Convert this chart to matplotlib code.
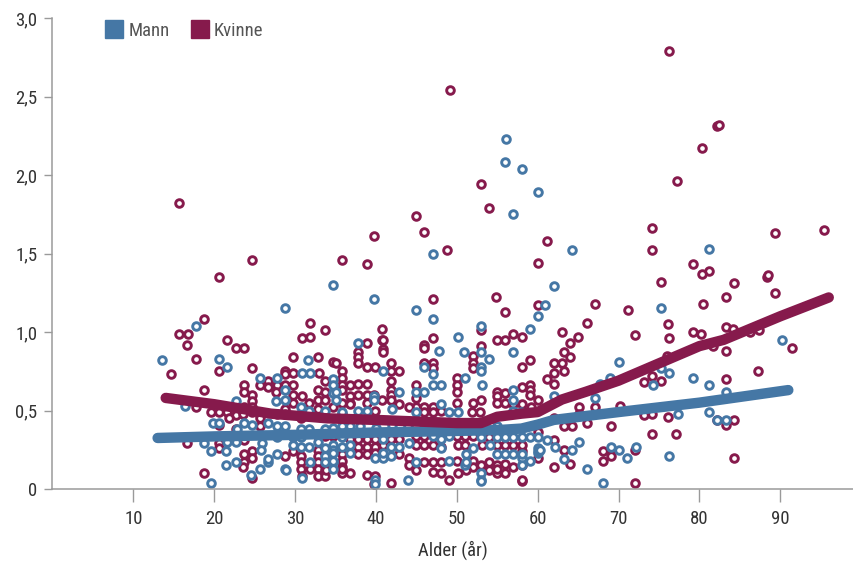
import matplotlib
matplotlib.use("Agg")
import matplotlib.pyplot as plt
from matplotlib import font_manager
from matplotlib.lines import Line2D

# ---------------- data ----------------
kvinne_punkter = [
    (76.3, 2.79), (49.1, 2.54), (82.2, 2.31), (82.4, 2.32), (80.3, 2.17), (77.2, 1.96), (53.0, 1.94),
    (54.0, 1.79), (15.6, 1.82), (44.9, 1.74), (46.0, 1.64), (39.8, 1.61), (48.8, 1.52), (61.1, 1.58),
    (74.2, 1.66), (74.2, 1.52), (89.3, 1.63), (95.4, 1.65), (20.6, 1.35), (24.7, 1.46), (35.8, 1.46),
    (38.9, 1.43), (60.1, 1.44), (79.2, 1.43), (81.2, 1.39), (80.3, 1.37), (75.2, 1.32), (88.4, 1.35),
    (88.5, 1.36), (84.3, 1.31), (83.3, 1.22), (89.4, 1.25), (80.4, 1.18), (54.9, 1.22), (56.0, 1.13),
    (47.0, 1.21), (60.1, 1.17), (67.1, 1.18), (71.2, 1.14), (18.7, 1.08), (31.8, 1.06), (33.7, 1.01),
    (15.6, 0.99), (16.7, 0.99), (21.6, 0.95), (30.8, 0.96), (31.9, 0.97), (40.8, 1.02), (40.8, 0.95),
    (53.0, 1.01), (57.0, 0.99), (58.1, 0.97), (47.0, 0.96), (55.0, 0.95), (56.0, 0.95), (66.1, 1.06),
    (76.1, 1.05), (63.0, 1.00), (65.0, 0.97), (72.1, 0.98), (79.2, 1.00), (80.2, 0.99), (76.3, 0.96),
    (83.3, 1.03), (84.2, 1.02), (86.3, 1.00), (87.4, 1.01), (81.7, 0.91), (83.3, 0.88), (91.4, 0.90),
    (87.3, 0.75), (83.3, 0.70), (83.3, 0.41), (84.3, 0.44), (84.3, 0.20),
    (64.0, 0.93), (63.2, 0.87), (64.0, 0.84), (59.1, 0.82), (62.0, 0.80), (63.0, 0.80), (58.1, 0.78),
    (76.0, 0.85), (63.2, 0.75), (62.0, 0.74), (74.2, 0.72), (61.1, 0.70), (59.1, 0.66), (59.1, 0.63),
    (59.1, 0.60), (62.0, 0.67), (73.1, 0.68), (75.2, 0.69), (60.0, 0.57), (58.1, 0.54), (59.2, 0.52),
    (65.1, 0.52), (67.1, 0.52), (70.2, 0.53), (65.1, 0.48), (73.1, 0.47), (74.2, 0.48), (76.1, 0.46),
    (82.2, 0.44), (62.0, 0.45), (66.1, 0.42), (63.2, 0.40), (64.2, 0.40), (69.1, 0.40), (60.0, 0.36),
    (74.2, 0.35), (77.1, 0.35), (62.0, 0.31), (58.1, 0.24), (60.0, 0.20), (63.2, 0.25), (68.1, 0.24),
    (69.1, 0.24), (69.1, 0.21), (72.1, 0.25), (68.1, 0.18), (64.0, 0.16), (62.0, 0.14), (58.1, 0.15),
    (58.1, 0.05), (72.1, 0.04),
    (16.6, 0.92), (22.7, 0.90), (23.7, 0.90), (17.7, 0.83), (14.6, 0.73), (20.6, 0.75), (24.7, 0.77),
    (26.7, 0.69), (25.7, 0.66), (26.7, 0.65), (23.7, 0.66), (23.7, 0.62), (18.7, 0.63), (24.7, 0.60),
    (24.7, 0.56), (17.7, 0.52), (19.6, 0.49), (20.6, 0.49), (21.6, 0.49), (22.7, 0.47), (21.8, 0.45),
    (23.6, 0.48), (23.7, 0.52), (24.7, 0.52), (24.7, 0.49), (25.7, 0.47), (25.7, 0.45), (25.7, 0.40),
    (20.6, 0.41), (22.7, 0.38), (16.6, 0.29), (20.6, 0.29), (20.6, 0.26), (23.7, 0.31), (23.7, 0.22),
    (24.7, 0.24), (24.7, 0.20), (23.7, 0.17), (23.6, 0.14), (18.7, 0.10), (24.7, 0.07),
    (29.8, 0.84), (32.8, 0.84), (34.7, 0.81), (28.7, 0.75), (28.7, 0.73), (29.8, 0.74), (32.9, 0.74),
    (33.7, 0.69), (27.8, 0.66), (28.7, 0.66), (27.7, 0.62), (29.8, 0.66), (29.8, 0.60), (30.8, 0.59),
    (32.8, 0.63), (33.7, 0.62), (32.8, 0.57), (29.7, 0.55), (31.7, 0.55), (33.7, 0.57), (32.8, 0.51),
    (34.7, 0.52), (28.8, 0.51), (28.8, 0.48), (27.8, 0.48), (30.7, 0.45), (32.8, 0.34), (33.7, 0.34),
    (34.7, 0.34), (29.7, 0.24), (32.8, 0.25), (28.8, 0.21), (30.7, 0.21), (30.7, 0.17), (30.7, 0.13),
    (32.8, 0.21), (32.8, 0.17), (32.8, 0.13), (32.8, 0.08), (33.7, 0.12), (33.7, 0.08), (30.8, 0.08),
    (31.8, 0.13),
    (38.9, 0.93), (40.9, 0.95), (40.9, 0.89), (40.9, 0.87), (45.9, 0.92), (45.9, 0.90), (53.0, 0.91),
    (52.0, 0.85), (37.8, 0.87), (37.8, 0.84), (37.8, 0.80), (38.9, 0.78), (35.0, 0.80), (41.9, 0.80),
    (41.9, 0.75), (42.9, 0.75), (39.9, 0.78), (45.9, 0.80), (47.0, 0.80), (47.0, 0.77), (52.0, 0.80),
    (52.0, 0.77), (35.8, 0.75), (35.8, 0.71), (35.8, 0.66), (35.8, 0.63), (36.8, 0.66), (37.8, 0.67),
    (38.9, 0.67), (41.9, 0.69), (41.9, 0.63), (41.9, 0.60), (44.9, 0.66), (50.0, 0.71), (50.0, 0.66),
    (50.0, 0.62), (55.0, 0.62), (55.0, 0.59), (56.0, 0.61), (58.1, 0.65), (37.8, 0.60), (38.9, 0.60),
    (39.8, 0.60), (36.8, 0.59), (36.8, 0.55), (35.8, 0.55), (36.8, 0.54), (38.9, 0.55), (40.8, 0.57),
    (41.9, 0.57), (42.9, 0.54), (44.9, 0.58), (44.9, 0.52), (45.9, 0.52), (47.0, 0.52), (50.0, 0.55),
    (52.0, 0.55), (53.0, 0.57), (55.0, 0.55), (56.0, 0.55), (57.0, 0.54), (35.8, 0.48), (39.9, 0.50),
    (44.1, 0.52), (45.9, 0.49), (47.0, 0.49), (48.0, 0.50), (51.9, 0.49), (52.9, 0.49),
    (36.8, 0.32), (37.8, 0.32), (38.9, 0.32), (39.9, 0.32), (41.9, 0.32), (42.9, 0.32), (44.9, 0.34),
    (45.9, 0.34), (50.0, 0.34), (51.0, 0.34), (52.0, 0.34), (54.0, 0.33), (37.8, 0.27), (38.9, 0.27),
    (39.9, 0.27), (40.9, 0.28), (44.9, 0.28), (45.9, 0.28), (47.0, 0.28), (48.0, 0.27), (50.1, 0.28),
    (51.0, 0.28), (53.1, 0.28), (55.0, 0.28), (56.0, 0.28), (57.0, 0.28), (58.1, 0.28), (35.8, 0.22),
    (35.8, 0.18), (35.8, 0.14), (37.8, 0.22), (38.9, 0.22), (39.9, 0.23), (42.9, 0.22), (44.1, 0.20),
    (45.9, 0.17), (47.0, 0.17), (48.0, 0.17), (50.0, 0.18), (52.0, 0.18), (52.0, 0.14), (53.0, 0.15),
    (54.0, 0.17), (55.0, 0.15), (56.0, 0.16), (57.0, 0.14), (35.8, 0.10), (36.8, 0.10), (38.9, 0.09),
    (39.9, 0.08), (39.8, 0.03), (41.9, 0.04), (44.9, 0.12), (47.0, 0.11), (48.0, 0.10), (49.0, 0.06),
    (50.1, 0.10), (54.0, 0.12), (55.0, 0.10), (56.0, 0.10), (58.1, 0.06), (44.1, 0.15), (51.1, 0.12),
    (55.0, 0.13), (35.8, 0.13), (33.8, 0.12),
]

mann_punkter = [
    (56.1, 2.23), (56.0, 2.08), (58.1, 2.04), (60.1, 1.89), (57.0, 1.75), (47.1, 1.50), (64.2, 1.52),
    (81.2, 1.53), (34.7, 1.30), (62.0, 1.29), (39.8, 1.21), (28.7, 1.15), (45.0, 1.14), (60.1, 1.10),
    (75.2, 1.15), (60.9, 1.17), (17.7, 1.04), (47.0, 1.08), (53.0, 1.04), (59.0, 1.02), (50.1, 0.97),
    (90.2, 0.95), (13.6, 0.82), (20.6, 0.83), (21.6, 0.78), (25.7, 0.71),
    (70.1, 0.81), (79.2, 0.71), (75.3, 0.77), (76.3, 0.74), (69.0, 0.71), (67.7, 0.67), (74.3, 0.66),
    (81.2, 0.66), (83.3, 0.62), (81.2, 0.49), (82.2, 0.44), (83.3, 0.44), (62.0, 0.59), (67.1, 0.58),
    (77.4, 0.48), (58.1, 0.33), (59.1, 0.33), (60.0, 0.33), (61.1, 0.31), (65.1, 0.30), (62.1, 0.27),
    (60.0, 0.26), (60.0, 0.23), (64.2, 0.25), (69.1, 0.27), (70.1, 0.25), (72.2, 0.27), (71.1, 0.20),
    (76.2, 0.21), (58.1, 0.20), (59.0, 0.18), (63.2, 0.19), (66.1, 0.13), (68.1, 0.04), (60.1, 0.24),
    (60.3, 0.25),
    (16.4, 0.53), (22.7, 0.56), (19.8, 0.42), (20.6, 0.42), (23.7, 0.42), (24.7, 0.41), (22.8, 0.38),
    (26.7, 0.42), (18.7, 0.29), (21.6, 0.30), (22.7, 0.30), (25.9, 0.29), (19.6, 0.24), (21.5, 0.24),
    (25.8, 0.25), (26.7, 0.17), (22.7, 0.17), (21.5, 0.15), (25.7, 0.13), (24.6, 0.09), (19.6, 0.04),
    (31.6, 0.82), (30.8, 0.74), (31.8, 0.74), (34.7, 0.70), (27.8, 0.71), (28.8, 0.63), (34.7, 0.66),
    (34.7, 0.61), (27.6, 0.56), (28.8, 0.57), (30.7, 0.52), (31.7, 0.50), (33.7, 0.50), (27.8, 0.40),
    (28.8, 0.40), (30.7, 0.38), (31.7, 0.38), (33.7, 0.38), (34.7, 0.39), (27.8, 0.33), (29.7, 0.33),
    (30.7, 0.33), (32.8, 0.30), (29.7, 0.28), (30.7, 0.27), (31.7, 0.27), (34.7, 0.28), (34.7, 0.25),
    (33.7, 0.26), (27.8, 0.22), (26.7, 0.19), (28.8, 0.13), (33.7, 0.21), (33.7, 0.17), (34.7, 0.17),
    (34.7, 0.13), (31.8, 0.17), (28.9, 0.12), (30.8, 0.07),
    (37.8, 0.93), (47.8, 0.88), (50.9, 0.87), (53.0, 0.87), (57.0, 0.87), (54.0, 0.83), (40.9, 0.75),
    (45.9, 0.78), (47.0, 0.73), (53.0, 0.78), (53.0, 0.75), (35.0, 0.62), (35.0, 0.57), (42.9, 0.62),
    (44.9, 0.62), (45.9, 0.62), (47.0, 0.66), (48.0, 0.66), (51.0, 0.71), (53.1, 0.66), (57.0, 0.63),
    (39.8, 0.59), (39.8, 0.57), (48.0, 0.54), (57.0, 0.57), (35.8, 0.49), (37.8, 0.50), (38.9, 0.50),
    (42.0, 0.51), (44.9, 0.49), (49.0, 0.49), (50.1, 0.49), (57.0, 0.50), (57.9, 0.49), (35.8, 0.40),
    (36.8, 0.40), (38.0, 0.40), (40.0, 0.39), (42.0, 0.41), (44.0, 0.40), (46.0, 0.39), (49.0, 0.40),
    (52.0, 0.40), (55.0, 0.40), (35.8, 0.33), (40.9, 0.32), (47.0, 0.34), (48.0, 0.32), (49.0, 0.34),
    (53.0, 0.33), (55.0, 0.33), (56.0, 0.33), (57.0, 0.33), (35.8, 0.27), (36.8, 0.28), (41.9, 0.27),
    (42.9, 0.27), (44.1, 0.29), (48.0, 0.26), (52.0, 0.26), (54.1, 0.28), (51.1, 0.22), (34.7, 0.23),
    (34.7, 0.18), (36.8, 0.23), (39.9, 0.20), (40.9, 0.20), (40.9, 0.23), (41.9, 0.21), (44.9, 0.17),
    (49.0, 0.18), (51.0, 0.15), (55.0, 0.22), (56.0, 0.22), (57.0, 0.22), (58.1, 0.22), (58.1, 0.15),
    (39.9, 0.06), (39.9, 0.03), (44.0, 0.06), (53.0, 0.10), (53.0, 0.06), (53.0, 0.05), (51.1, 0.17),
]

# smoothed trend lines
mann_kurve_x = [13, 20, 30, 40, 50, 55, 58, 60, 62, 70, 80, 91]
mann_kurve_y = [0.325, 0.335, 0.345, 0.36, 0.37, 0.375, 0.385, 0.41, 0.44, 0.49, 0.55, 0.63]
kvinne_kurve_x = [14, 20, 27, 34, 40, 45, 50, 53, 55, 58, 60, 63, 66, 70, 75, 80, 83, 90, 96]
kvinne_kurve_y = [0.58, 0.54, 0.48, 0.45, 0.44, 0.43, 0.42, 0.42, 0.46, 0.48, 0.49, 0.57, 0.62,
                  0.69, 0.80, 0.91, 0.95, 1.10, 1.22]

x_ticks = [10, 20, 30, 40, 50, 60, 70, 80, 90]
y_ticks = [0, 0.5, 1.0, 1.5, 2.0, 2.5, 3.0]
y_ticklabels = ["0", "0,5", "1,0", "1,5", "2,0", "2,5", "3,0"]
serier = ["Mann", "Kvinne"]
x_label = "Alder (år)"

# ---------------- style ----------------
BLUE = "#4577a5"
MAROON = "#861a4c"
GRAY = "#9a9a9a"
TEXT = "#333333"

available = {f.name for f in font_manager.fontManager.ttflist}
family = "DejaVu Sans"
for cand in ["Liberation Sans Narrow", "Roboto Condensed", "Roboto", "Liberation Sans"]:
    if cand in available:
        family = cand
        break
plt.rcParams["font.family"] = [family, "DejaVu Sans"]

fig = plt.figure(figsize=(8.54, 5.64), dpi=100)
ax = fig.add_axes([52.5 / 854, 1 - 489 / 564, (853 - 52.5) / 854, (489 - 18) / 564])

kx, ky = zip(*kvinne_punkter)
mx, my = zip(*mann_punkter)

ax.scatter(kx, ky, s=30, facecolors="white", edgecolors=MAROON, linewidths=2.1, zorder=2)
ax.scatter(mx, my, s=30, facecolors="white", edgecolors=BLUE, linewidths=2.1, zorder=2)

ax.plot(mann_kurve_x, mann_kurve_y, color=BLUE, lw=7.5, solid_capstyle="round",
        solid_joinstyle="round", zorder=4)
ax.plot(kvinne_kurve_x, kvinne_kurve_y, color=MAROON, lw=7.5, solid_capstyle="round",
        solid_joinstyle="round", zorder=4)

ax.set_xlim(0, 99)
ax.set_ylim(0, 3.0)
ax.set_xticks(x_ticks)
ax.set_xticklabels([str(t) for t in x_ticks])
ax.set_yticks(y_ticks)
ax.set_yticklabels(y_ticklabels)

for s in ["top", "right"]:
    ax.spines[s].set_visible(False)
for s in ["left", "bottom"]:
    ax.spines[s].set_color(GRAY)
    ax.spines[s].set_linewidth(1.1)

ax.tick_params(axis="x", length=9, width=1, color=GRAY, pad=6, labelsize=13.5, labelcolor=TEXT)
ax.tick_params(axis="y", length=6, width=1, color=GRAY, pad=5, labelsize=13.5, labelcolor=TEXT)

ax.set_xlabel(x_label, fontsize=13.5, color=TEXT, labelpad=9)

handles = [
    Line2D([], [], marker="s", linestyle="none", markersize=13, markerfacecolor=BLUE,
           markeredgecolor=BLUE),
    Line2D([], [], marker="s", linestyle="none", markersize=13, markerfacecolor=MAROON,
           markeredgecolor=MAROON),
]
leg = fig.legend(handles, serier, loc="upper left", bbox_to_anchor=(90 / 854, 1 - 5 / 564),
                 ncol=2, frameon=False, fontsize=13.5, handlelength=0.8, handletextpad=0.35,
                 columnspacing=1.2, labelcolor="#555555")

fig.savefig("out.png", dpi=100)
